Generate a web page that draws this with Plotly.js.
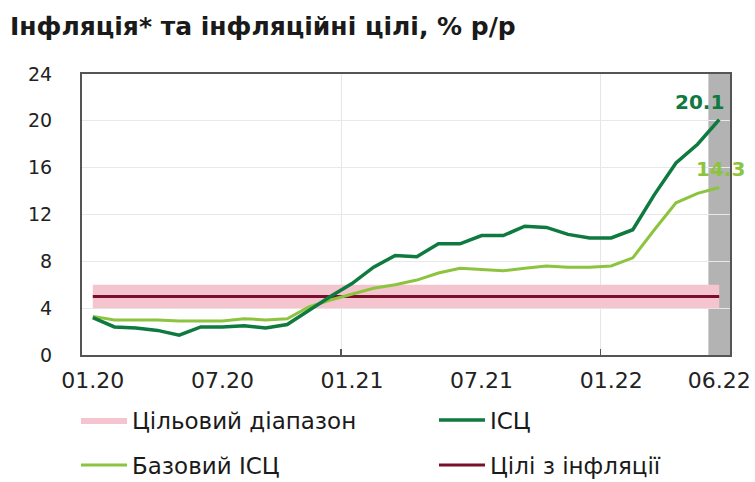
<!DOCTYPE html>
<html>
<head>
<meta charset="utf-8">
<script src="https://cdn.plot.ly/plotly-3.0.1.min.js"></script>
<style>html,body{margin:0;padding:0;background:#fff;}#chart{width:755px;height:482px;}</style>
</head>
<body>
<div id="chart"></div>
<script>
const months = ['01.20','02.20','03.20','04.20','05.20','06.20','07.20','08.20','09.20','10.20','11.20','12.20',
                '01.21','02.21','03.21','04.21','05.21','06.21','07.21','08.21','09.21','10.21','11.21','12.21',
                '01.22','02.22','03.22','04.22','05.22','06.22'];
const cpi  = [3.2,2.4,2.3,2.1,1.7,2.4,2.4,2.5,2.3,2.6,3.8,5.0,6.1,7.5,8.5,8.4,9.5,9.5,10.2,10.2,11.0,10.9,10.3,10.0,10.0,10.7,13.7,16.4,18.0,20.1];
const core = [3.3,3.0,3.0,3.0,2.9,2.9,2.9,3.1,3.0,3.1,4.1,4.7,5.2,5.7,6.0,6.4,7.0,7.4,7.3,7.2,7.4,7.6,7.5,7.5,7.6,8.3,10.7,13.0,13.8,14.3];
const target   = [5,5,5,5,5,5,5,5,5,5,5,5,5,5,5,5,5,5,5,5,5,5,5,5,5,5,5,5,5,5];
const bandLow  = [4,4,4,4,4,4,4,4,4,4,4,4,4,4,4,4,4,4,4,4,4,4,4,4,4,4,4,4,4,4];
const bandHigh = [6,6,6,6,6,6,6,6,6,6,6,6,6,6,6,6,6,6,6,6,6,6,6,6,6,6,6,6,6,6];
const tickMonths = ['01.20','07.20','01.21','07.21','01.22','06.22'];
const yearStarts = ['01.21','01.22'];
const forecastMonth = '06.22';

const names = {band:'Цільовий діапазон', cpi:'ІСЦ', core:'Базовий ІСЦ', target:'Цілі з інфляції'};
const colors = {band:'#f5c5cf', cpi:'#0e7a3f', core:'#8cc43f', target:'#7a0f2c'};

const x = months.map((m, i) => i);
const idx = m => months.indexOf(m);
const last = months.length - 1;

const FONT = 'DejaVu Sans, Arial, sans-serif';

const traces = [
  {x:x, y:bandLow, mode:'lines', line:{width:0, color:colors.band}, showlegend:false, hoverinfo:'skip'},
  {x:x, y:bandHigh, mode:'lines', line:{width:0, color:colors.band}, fill:'tonexty', fillcolor:colors.band,
   name:names.band, legend:'legend', legendrank:1},
  {x:x, y:target, mode:'lines', line:{width:3, color:colors.target}, name:names.target, legend:'legend2', legendrank:2},
  {x:x, y:core, mode:'lines', line:{width:3, color:colors.core}, name:names.core, legend:'legend2', legendrank:1},
  {x:x, y:cpi, mode:'lines', line:{width:3.5, color:colors.cpi}, name:names.cpi, legend:'legend', legendrank:2}
];

const legendCommon = {
  orientation:'h', xanchor:'left', yanchor:'middle', x:-6/648,
  font:{family:FONT, size:23, color:'#1a1a1a'}, bgcolor:'rgba(0,0,0,0)',
  entrywidth:297, itemwidth:46, traceorder:'normal'
};

const layout = {
  width:755, height:482,
  margin:{l:82, r:25, t:74, b:127, autoexpand:false},
  paper_bgcolor:'#fff', plot_bgcolor:'#fff',
  title:{text:'Інфляція* та інфляційні цілі, % р/р', font:{family:FONT, size:25, color:'#1a1a1a', weight:'bold'},
         xref:'container', yref:'container', x:10/755, xanchor:'left', y:1-26/482, yanchor:'middle'},
  xaxis:{
    range:[-0.5, last + 0.5], showgrid:false, zeroline:false,
    showline:true, linecolor:'#555', linewidth:2, mirror:true,
    tickmode:'array', tickvals:tickMonths.map(idx), ticktext:tickMonths,
    ticks:'', ticklabelstandoff:5,
    tickfont:{family:FONT, size:22, color:'#222'},
    minor:{tickmode:'array', tickvals:yearStarts.map(m => idx(m) - 0.5), showgrid:true, gridcolor:'#e6e6e6', gridwidth:1,
           ticks:'inside', ticklen:6, tickcolor:'#555', tickwidth:1.5}
  },
  yaxis:{
    range:[0, 24], dtick:4, tick0:0, showgrid:true, gridcolor:'#e8e8e8', gridwidth:1, zeroline:false,
    showline:true, linecolor:'#555', linewidth:2, mirror:true,
    ticks:'outside', ticklen:24, tickcolor:'rgba(0,0,0,0)', tickwidth:1,
    tickfont:{family:FONT, size:19, color:'#222'}
  },
  shapes:[
    {type:'rect', xref:'x', yref:'paper', x0:idx(forecastMonth)-0.5, x1:idx(forecastMonth)+0.5, y0:0, y1:1,
     fillcolor:'#b3b3b3', line:{width:0}, layer:'below'}
  ],
  annotations:[
    {x:last, y:cpi[last], xref:'x', yref:'y', text:'<b>' + cpi[last].toFixed(1) + '</b>', showarrow:false,
     xanchor:'right', yanchor:'bottom', xshift:7, yshift:4,
     font:{family:FONT, size:20, color:colors.cpi}},
    {x:last, y:core[last], xref:'x', yref:'y', text:'<b>' + core[last].toFixed(1) + '</b>', showarrow:false,
     xanchor:'center', yanchor:'bottom', xshift:1, yshift:5,
     font:{family:FONT, size:20, color:colors.core}}
  ],
  legend:Object.assign({}, legendCommon, {y:(355-420)/281}),
  legend2:Object.assign({}, legendCommon, {y:(355-465)/281}),
  showlegend:true
};

Plotly.newPlot('chart', traces, layout, {displayModeBar:false, staticPlot:true});
</script>
</body>
</html>
